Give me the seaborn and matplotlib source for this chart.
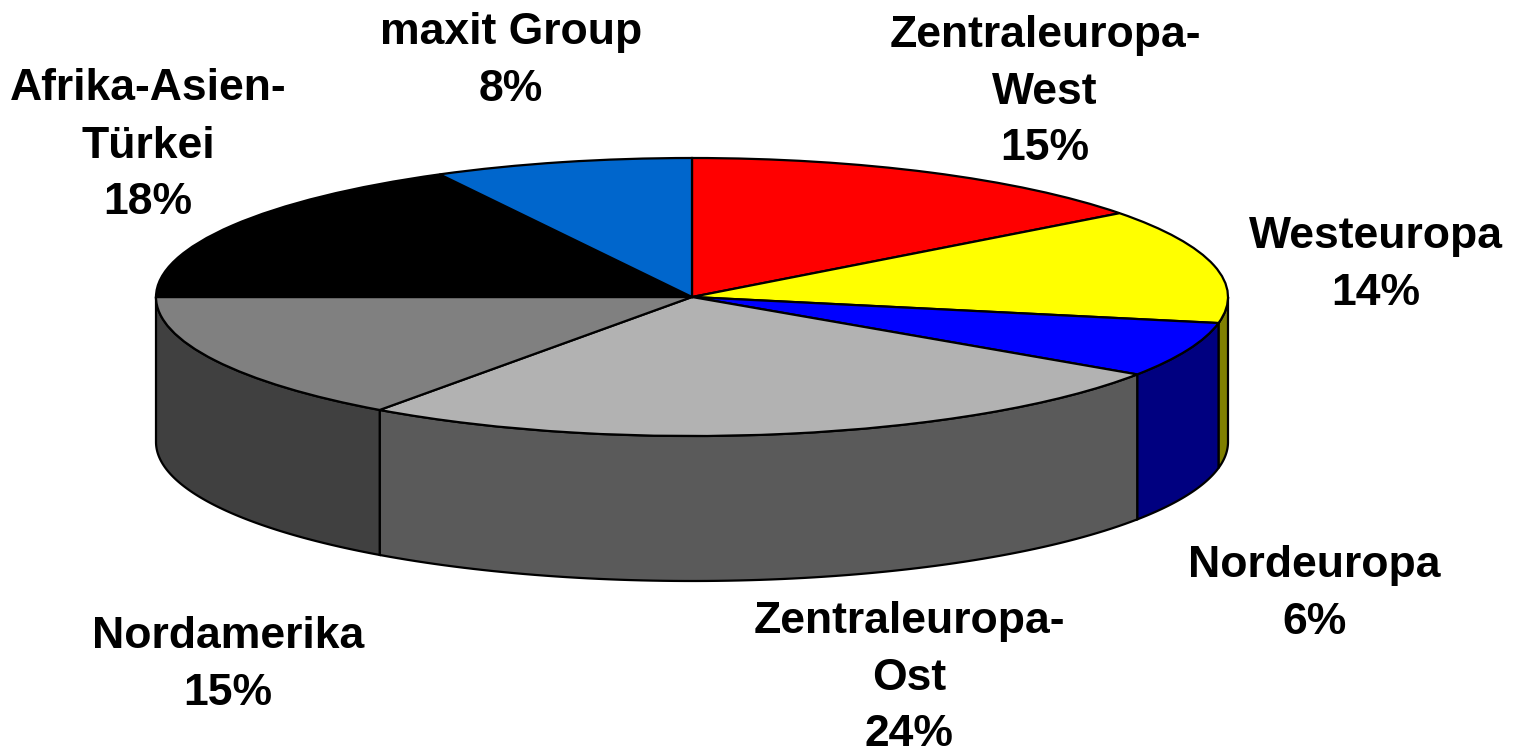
import numpy as np
import matplotlib
matplotlib.use("Agg")
import matplotlib.pyplot as plt
import seaborn as sns

names = ["Zentraleuropa-\nWest", "Westeuropa", "Nordeuropa", "Zentraleuropa-\nOst",
         "Nordamerika", "Afrika-Asien-\nTürkei", "maxit Group"]
percent_labels = ["15%", "14%", "6%", "24%", "15%", "18%", "8%"]
# slice sizes as measured on the drawn pie, the printed percentages differ a bit
shares = [14.7, 13.3, 6.4, 25.5, 15.1, 17.2, 7.8]
top_colors = ["#ff0000", "#ffff00", "#0000ff", "#b2b2b2", "#808080", "#000000", "#0066cc"]
side_colors = ["#800000", "#808000", "#000080", "#5a5a5a", "#404040", "#000000", "#003366"]
label_pos = [(1045, 92), (1376, 265), (1314, 594), (909, 678), (228, 665), (148, 146), (511, 61)]

W, H = 1519, 752
cx, cy, rx, ry = 692, 297, 536, 139
depth = 145 / ry

sns.set_theme(style="white")
plt.rcParams["font.family"] = ["Liberation Sans", "DejaVu Sans"]

fig = plt.figure(figsize=(W / 100, H / 100), dpi=100, facecolor="white")
ax = fig.add_axes([0, 0, 1, 1])

# side wall, only the front half of the ellipse shows
edges = np.cumsum([0] + shares) / sum(shares) * 360
for i in range(len(shares)):
    a = max(edges[i], 90)
    b = min(edges[i + 1], 270)
    if b <= a:
        continue
    t = np.radians(np.linspace(a, b, 80))
    x = np.sin(t)
    y = np.cos(t)
    ax.fill(np.r_[x, x[::-1]], np.r_[y, y[::-1] - depth],
            facecolor=side_colors[i], edgecolor="black", linewidth=1.6, zorder=1)

wedges, _ = ax.pie(shares, colors=top_colors, startangle=90, counterclock=False,
                   wedgeprops={"edgecolor": "black", "linewidth": 1.6, "zorder": 2})

ax.set_aspect("auto")
ax.set_xlim(-cx / rx, (W - cx) / rx)
ax.set_ylim(-(H - cy) / ry, cy / ry)
ax.axis("off")

for name, pct, (px, py) in zip(names, percent_labels, label_pos):
    fig.text(px / W, 1 - py / H, f"{name}\n{pct}", ha="center", va="center",
             fontsize=32, fontweight="bold", color="black", linespacing=1.5)

fig.savefig("out.png", dpi=100)
